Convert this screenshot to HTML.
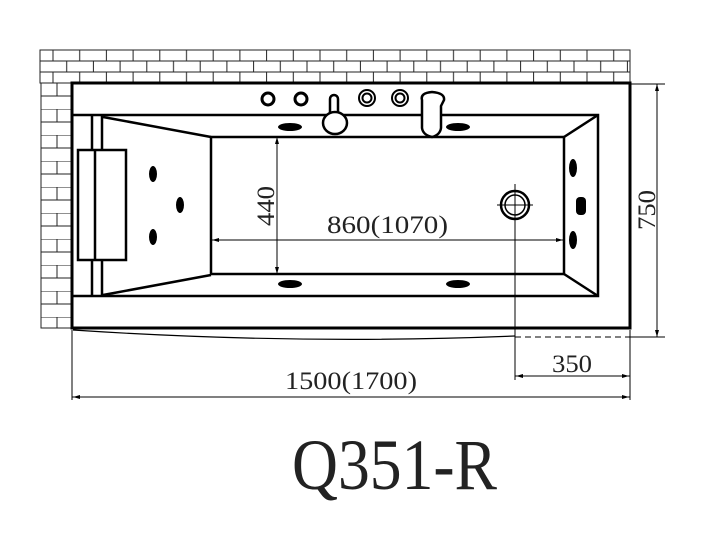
<!DOCTYPE html>
<html><head><meta charset="utf-8"><style>
html,body{margin:0;padding:0;background:#fff;}
svg{display:block;}
text{font-family:"Liberation Serif",serif;fill:#222;}
</style></head><body>
<svg width="722" height="536" viewBox="0 0 722 536" xmlns="http://www.w3.org/2000/svg">
<defs>
<pattern id="bt" x="40" y="50" width="53.4" height="22" patternUnits="userSpaceOnUse">
<path d="M0 0H53.4M0 11H53.4M0 22H53.4M13 0V11M39.7 0V11M26.7 11V22M0 11V22M53.4 11V22" stroke="#222" stroke-width="1" fill="none"/>
</pattern>
<pattern id="bl" x="41" y="83" width="32" height="26" patternUnits="userSpaceOnUse">
<path d="M0 0H32M0 13H32M16 0V13" stroke="#222" stroke-width="1" fill="none"/>
</pattern>
</defs>
<rect x="40" y="50" width="590" height="33" fill="url(#bt)" stroke="#222" stroke-width="1"/>
<rect x="41" y="83" width="31" height="245" fill="url(#bl)" stroke="#222" stroke-width="1"/>
<rect x="72" y="83" width="558" height="245" fill="#fff" stroke="#000" stroke-width="3"/>
<g stroke="#000" stroke-width="2.5" fill="none">
<path d="M72 115H598V296H72"/>
<rect x="211" y="137" width="353" height="137"/>
<path d="M103 117L211 137M103 295L211 275M598 115L564 137M598 296L564 274"/>
<path d="M92 116V296M102 116V296"/>
<rect x="78" y="150" width="48" height="110" fill="#fff"/>
<path d="M95 150V260"/>
</g>
<path d="M73 330Q300 345 515 336" stroke="#000" stroke-width="1.2" fill="none"/>
<g fill="#000">
<ellipse cx="153" cy="174" rx="4" ry="8"/><ellipse cx="180" cy="205" rx="4" ry="8"/><ellipse cx="153" cy="237" rx="4" ry="8"/>
<ellipse cx="290" cy="127" rx="12" ry="4"/><ellipse cx="458" cy="127" rx="12" ry="4"/>
<ellipse cx="290" cy="284" rx="12" ry="4"/><ellipse cx="458" cy="284" rx="12" ry="4"/>
<ellipse cx="573" cy="168" rx="4" ry="9"/><ellipse cx="573" cy="240" rx="4" ry="9"/>
<rect x="576" y="197" width="10" height="18" rx="4"/>
</g>
<g stroke="#000" fill="#fff" stroke-width="3">
<circle cx="268" cy="99" r="6"/><circle cx="301" cy="99" r="6"/>
<circle cx="367" cy="98" r="8" stroke-width="2"/><circle cx="367" cy="98" r="4.5" stroke-width="2"/>
<circle cx="400" cy="98" r="8" stroke-width="2"/><circle cx="400" cy="98" r="4.5" stroke-width="2"/>
<path d="M330 116V99a4 4 0 0 1 8 0V116" stroke-width="2.5"/>
<ellipse cx="335" cy="123" rx="12" ry="11" stroke-width="2.5"/>
<path d="M422 100Q420 93 432 92Q445 93 444 100L441 106V128Q440 135 432 137Q423 135 422 128Z" stroke-width="2.5"/>
</g>
<circle cx="515" cy="205" r="14" fill="#fff" stroke="#000" stroke-width="2.5"/>
<circle cx="515" cy="205" r="10" fill="none" stroke="#000" stroke-width="1.5"/>
<g stroke="#000" stroke-width="1" fill="none">
<path d="M497 205H533M515 184V380"/>
<path d="M277 138V273"/>
<path d="M211 240H564"/>
<path d="M657 84V337"/>
<path d="M630 84H665M630 337H665" />
<path d="M515 337H665" stroke-dasharray="6 4"/>
<path d="M515 376H630"/>
<path d="M72 397H630M72 330V400M630 330V400"/>
</g>
<g fill="#000">
<path d="M277 137l-2 7h4z"/><path d="M277 274l-2 -7h4z"/>
<path d="M212 240l7 -2v4z"/><path d="M563 240l-7 -2v4z"/>
<path d="M657 84l-2 7h4z"/><path d="M657 337l-2 -7h4z"/>
<path d="M516 376l7 -2v4z"/><path d="M629 376l-7 -2v4z"/>
<path d="M73 397l7 -2v4z"/><path d="M629 397l-7 -2v4z"/>
</g>
<text x="327" y="233" font-size="25" textLength="121" lengthAdjust="spacingAndGlyphs">860(1070)</text>
<text transform="translate(274 226) rotate(-90)" font-size="25" textLength="40" lengthAdjust="spacingAndGlyphs">440</text>
<text transform="translate(655 230) rotate(-90)" font-size="25" textLength="40" lengthAdjust="spacingAndGlyphs">750</text>
<text x="552" y="372" font-size="25" textLength="40" lengthAdjust="spacingAndGlyphs">350</text>
<text x="285" y="389" font-size="25" textLength="132" lengthAdjust="spacingAndGlyphs">1500(1700)</text>
<text x="292" y="489" font-size="72" textLength="205" lengthAdjust="spacingAndGlyphs">Q351-R</text>
</svg>
</body></html>
